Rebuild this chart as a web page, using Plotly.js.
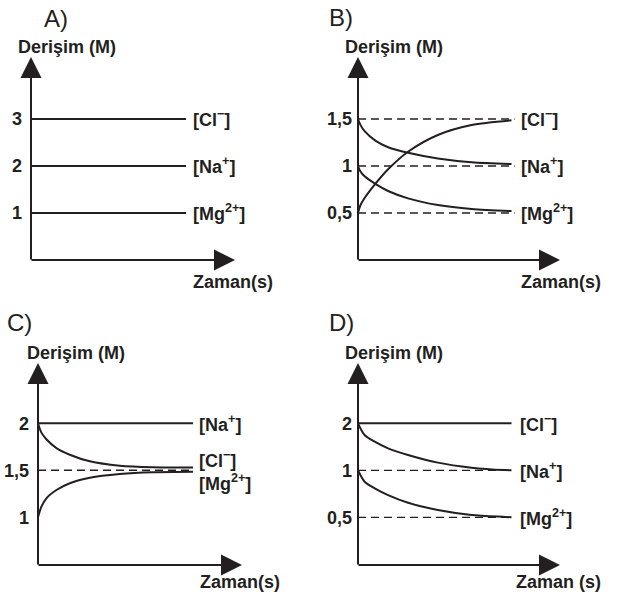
<!DOCTYPE html>
<html><head><meta charset="utf-8">
<script src="https://cdn.plot.ly/plotly-3.0.1.min.js"></script>
<style>html,body{margin:0;padding:0;background:#fff}</style>
</head><body><div id="chart" style="width:617px;height:594px"></div>
<script>
// ---------------- data ----------------
const panelNames = ['A)', 'B)', 'C)', 'D)'];
const yTitle = 'Derişim (M)';
const xTitles = ['Zaman(s)', 'Zaman(s)', 'Zaman(s)', 'Zaman (s)'];
const lblCl = '[Cl<sup>−</sup>]';
const lblNa = '[Na<sup>+</sup>]';
const lblMg = '[Mg<sup>2+</sup>]';

// Panel A
const timeA = [0, 10];
const clA = [3, 3];
const naA = [2, 2];
const mgA = [1, 1];
const tickValsA = [1, 2, 3];
const tickTextA = ['1', '2', '3'];

// Panel B
const timeB = [0, 0.15, 0.43, 1.13, 1.96, 3.26, 5.2, 7.4, 10];
const clB = [0.5, 0.58, 0.66, 0.81, 0.965, 1.152, 1.33, 1.436, 1.486];
const naB = [1.5, 1.44, 1.37, 1.27, 1.2, 1.14, 1.08, 1.04, 1.02];
const mgB = [1.0, 0.945, 0.89, 0.81, 0.734, 0.656, 0.585, 0.543, 0.521];
const guideB = [0.5, 1, 1.5];
const tickValsB = [0.5, 1, 1.5];
const tickTextB = ['0,5', '1', '1,5'];

// Panel C
const timeC = [0, 0.22, 0.54, 1.19, 2.05, 3.34, 5.27, 7.42, 10];
const naC = [2, 2, 2, 2, 2, 2, 2, 2, 2];
const clC = [2.0, 1.90, 1.83, 1.735, 1.665, 1.595, 1.548, 1.531, 1.528];
const mgC = [1.0, 1.113, 1.202, 1.29, 1.362, 1.42, 1.46, 1.479, 1.484];
const guideC = [1.5];
const tickValsC = [1, 1.5, 2];
const tickTextC = ['1', '1,5', '2'];

// Panel D
const timeD = [0, 0.43, 1.09, 1.96, 3.26, 5.2, 7.4, 9.57, 10];
const clD = [2, 2, 2, 2, 2, 2, 2, 2, 2];
const naD = [2.0, 1.683, 1.525, 1.383, 1.254, 1.12, 1.04, 1.003, 1.0];
const mgD = [1.0, 0.845, 0.767, 0.694, 0.620, 0.557, 0.518, 0.503, 0.5];
const guideD = [0.5, 1];
const tickValsD = [0.5, 1, 2];
const tickTextD = ['0,5', '1', '2'];

// ---------------- style / layout helpers ----------------
const W = 617, H = 594;
const INK = '#231f20';
const FONT = 'Liberation Sans, Arial, Helvetica, sans-serif';
const XMAX = 13.16;
const px = v => v / W;
const py = v => 1 - v / H;
const b = t => '<b>' + t + '</b>';

// panel geometry in pixels: axis x, origin y, arrow tip x, arrow tip y
const geo = [
  {ax: 31,  oy: 260, tx: 235, ty: 57},
  {ax: 358, oy: 260, tx: 560, ty: 57},
  {ax: 38,  oy: 565, tx: 242, ty: 363},
  {ax: 358, oy: 565, tx: 560, ty: 363}
];

const traces = [];
function sfx(k) { return k === 1 ? '' : String(k); }
function solid(xs, ys, k) {
  traces.push({x: xs, y: ys, xaxis: 'x' + sfx(k), yaxis: 'y' + sfx(k),
    type: 'scatter', mode: 'lines', line: {color: INK, width: 2, shape: 'spline', smoothing: 0.8},
    hoverinfo: 'skip', cliponaxis: false});
}
function dashed(level, xEnd, k) {
  traces.push({x: [0, xEnd], y: [level, level], xaxis: 'x' + sfx(k), yaxis: 'y' + sfx(k),
    type: 'scatter', mode: 'lines', line: {color: INK, width: 1.3, dash: '8px,5px'},
    hoverinfo: 'skip', cliponaxis: false});
}

// A
solid(timeA, clA, 1); solid(timeA, naA, 1); solid(timeA, mgA, 1);
// B
guideB.forEach(v => dashed(v, 10.2, 2));
solid(timeB, clB, 2); solid(timeB, naB, 2); solid(timeB, mgB, 2);
// C
guideC.forEach(v => dashed(v, 10, 3));
solid(timeC, naC, 3); solid(timeC, clC, 3); solid(timeC, mgC, 3);
// D
guideD.forEach(v => dashed(v, 10, 4));
solid(timeD, clD, 4); solid(timeD, naD, 4); solid(timeD, mgD, 4);

const layout = {
  width: W, height: H, margin: {l: 0, r: 0, t: 0, b: 0},
  paper_bgcolor: '#fff', plot_bgcolor: '#fff', showlegend: false,
  font: {family: FONT, size: 18, color: INK},
  annotations: []
};

const yRanges = [
  [0, (260 - 57) / 47],
  [0, (260 - 57) / 94],
  [0.493, 2.64],
  [-0.6065, 0.6872]
];
const tickVals = [tickValsA, tickValsB, tickValsC, tickValsD];
const tickTexts = [tickTextA, tickTextB, tickTextC, tickTextD];
const standoff = [8, 5, 8, 5];

geo.forEach((g, i) => {
  const s = sfx(i + 1);
  layout['xaxis' + s] = {
    domain: [px(g.ax), px(g.tx)], range: [0, XMAX], anchor: 'y' + s,
    showgrid: false, zeroline: false, showticklabels: false, ticks: '', showline: false, fixedrange: true
  };
  layout['yaxis' + s] = {
    domain: [py(g.oy), py(g.ty)], range: yRanges[i], anchor: 'x' + s,
    type: i === 3 ? 'log' : 'linear',
    showgrid: false, zeroline: false, ticks: '', showline: false, fixedrange: true,
    tickvals: tickVals[i], ticktext: tickTexts[i].map(b), ticklabelstandoff: standoff[i],
    tickfont: {family: FONT, size: 18, color: INK}
  };
  // axis arrows
  const arrowBase = {text: '', showarrow: true, arrowhead: 2, arrowsize: 2.1, arrowwidth: 2,
    arrowcolor: INK, axref: 'pixel', ayref: 'pixel', standoff: 0, startstandoff: 0};
  layout.annotations.push(Object.assign({}, arrowBase, {
    xref: 'x' + s + ' domain', yref: 'y' + s + ' domain', x: 1, y: 0,
    ax: -(g.tx - g.ax) - 1, ay: 0}));
  layout.annotations.push(Object.assign({}, arrowBase, {
    xref: 'x' + s + ' domain', yref: 'y' + s + ' domain', x: 0, y: 1,
    ax: 0, ay: (g.oy - g.ty) + 1}));
});

// ion labels
function ion(text, level, k, yshift, xshift) {
  const s = sfx(k);
  layout.annotations.push({text: b(text), xref: 'x' + s, yref: 'y' + s, x: 10,
    y: k === 4 ? Math.log10(level) : level, xanchor: 'left', yanchor: 'middle',
    xshift: xshift, yshift: yshift || 0, showarrow: false,
    font: {family: FONT, size: 18, color: INK}});
}
ion(lblCl, clA[1], 1, 0, 5); ion(lblNa, naA[1], 1, 0, 5); ion(lblMg, mgA[1], 1, 0, 5);
ion(lblCl, 1.5, 2, 0, 7); ion(lblNa, 1, 2, 0, 7); ion(lblMg, 0.5, 2, 0, 7);
ion(lblNa, 2, 3, 0, 4); ion(lblCl, 1.5, 3, 11, 4); ion(lblMg, 1.5, 3, -12, 4);
ion(lblCl, 2, 4, 0, 6); ion(lblNa, 1, 4, 0, 6); ion(lblMg, 0.5, 4, 0, 6);

// titles
const titlePos = [
  {p: [42, 18.5], y: [16, 47], x: [275, 282]},
  {p: [327, 18], y: [343, 47], x: [603, 282]},
  {p: [5, 322], y: [25, 353], x: [282, 582]},
  {p: [327, 322], y: [343, 353], x: [603, 582]}
];
titlePos.forEach((t, i) => {
  layout.annotations.push({text: panelNames[i], xref: 'paper', yref: 'paper',
    x: px(t.p[0]), y: py(t.p[1]), xanchor: 'left', yanchor: 'middle', showarrow: false,
    font: {family: FONT, size: 24, color: INK}});
  layout.annotations.push({text: b(yTitle), xref: 'paper', yref: 'paper',
    x: px(t.y[0]), y: py(t.y[1]), xanchor: 'left', yanchor: 'middle', showarrow: false,
    font: {family: FONT, size: 18, color: INK}});
  layout.annotations.push({text: b(xTitles[i]), xref: 'paper', yref: 'paper',
    x: px(t.x[0]), y: py(t.x[1]), xanchor: 'right', yanchor: 'middle', showarrow: false,
    font: {family: FONT, size: 18, color: INK}});
});

Plotly.newPlot('chart', traces, layout, {staticPlot: true, displayModeBar: false});
</script>
</body></html>
